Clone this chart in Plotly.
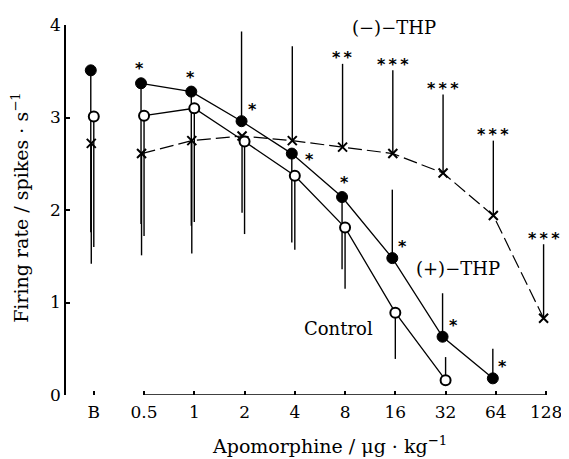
import numpy as np
import plotly.graph_objects as go

# ---- data ----
categories = ["B", "0.5", "1", "2", "4", "8", "16", "32", "64", "128"]
doses = [None, 0.5, 1, 2, 4, 8, 16, 32, 64, 128]

plus_thp = [3.51, 3.37, 3.28, 2.96, 2.61, 2.14, 1.48, 0.63, 0.18]
plus_thp_err_lo = [1.75, 1.52, 1.45, 0.0, 0.96, 0.78, 0.0, 0.0, 0.0]
plus_thp_err_hi = [0.0, 0.0, 0.0, 0.97, 0.0, 0.0, 0.74, 0.47, 0.32]
plus_thp_sig = ["", "*", "*", "*", "*", "*", "*", "*", "*"]

control = [3.01, 3.02, 3.10, 2.74, 2.37, 1.81, 0.89, 0.16]
control_err_lo = [1.41, 1.30, 1.23, 1.00, 0.80, 0.66, 0.50, 0.0]
control_err_hi = [0.0, 0.0, 0.0, 0.0, 0.0, 0.0, 0.0, 0.25]

minus_thp = [2.72, 2.61, 2.75, 2.80, 2.75, 2.68, 2.61, 2.40, 1.94, 0.83]
minus_thp_err_lo = [1.30, 1.10, 1.22, 0.83, 0.0, 0.0, 0.0, 0.0, 0.0, 0.0]
minus_thp_err_hi = [0.0, 0.0, 0.0, 0.0, 1.02, 0.90, 0.90, 0.85, 0.81, 0.80]
minus_thp_sig = ["", "", "", "", "", "**", "***", "***", "***", "***"]

y_ticks = [0, 1, 2, 3, 4]

# ---- scale: log2 dose, baseline one step left of 0.5 ----
xpos = np.array([np.log2(0.5) - 1] + [np.log2(d) for d in doses[1:]])

# styles
FONT = "DejaVu Serif"
dodge = {"plus": -0.06, "ctrl": 0.0, "minus": -0.05}
plus_star_shift = [(0, 0), (-2, 15), (-1, 14), (11, 12), (18, -6), (2, 15), (10, 12), (11, 11), (10, 12)]
GAP = "\u2009"

fig = go.Figure()

def add_series(vals, lo, hi, dx, marker, line):
    n = len(vals)
    xs = xpos[:n] + dx
    fig.add_trace(go.Scatter(x=xs[1:], y=vals[1:], mode="lines", line=line,
                             hoverinfo="skip", showlegend=False))
    fig.add_trace(go.Scatter(
        x=xs, y=vals, mode="markers", marker=marker, showlegend=False,
        error_y=dict(type="data", symmetric=False, array=hi, arrayminus=lo,
                     color="black", thickness=1.4, width=0),
        cliponaxis=False))

add_series(minus_thp, minus_thp_err_lo, minus_thp_err_hi, dodge["minus"],
           dict(symbol="x-thin-open", size=9, color="black", line=dict(color="black", width=2)),
           dict(color="black", width=1.2, dash="14px,5px"))
add_series(plus_thp, plus_thp_err_lo, plus_thp_err_hi, dodge["plus"],
           dict(symbol="circle", size=11, color="black", line=dict(color="black", width=1)),
           dict(color="black", width=1.3))
add_series(control, control_err_lo, control_err_hi, dodge["ctrl"],
           dict(symbol="circle", size=10, color="white", line=dict(color="black", width=2)),
           dict(color="black", width=1.3))

STAR_FONT = dict(family="DejaVu Sans", size=16, color="black")
annotations = []
# significance stars for (+)-THP
for i, s in enumerate(plus_thp_sig):
    if s:
        xs_, ys_ = plus_star_shift[i]
        annotations.append(dict(x=xpos[i] + dodge["plus"], y=plus_thp[i], xref="x", yref="y",
                                text="<b>" + s + "</b>", showarrow=False, xshift=xs_, yshift=ys_,
                                xanchor="center", yanchor="middle", font=STAR_FONT))
# significance stars for (-)-THP, above the error bars
for i, s in enumerate(minus_thp_sig):
    if s:
        annotations.append(dict(x=xpos[i] + dodge["minus"], y=minus_thp[i] + minus_thp_err_hi[i],
                                xref="x", yref="y", text="<b>" + GAP.join(s) + "</b>", showarrow=False,
                                yshift=6, xanchor="center", yanchor="middle", font=STAR_FONT))

def label(x, y, text, size, angle=0):
    return dict(x=x, y=y, xref="paper", yref="paper", text=text, showarrow=False,
                xanchor="center", yanchor="middle", textangle=angle,
                font=dict(family=FONT, size=size, color="black"))

# series labels and axis titles
annotations += [
    label(0.669, 0.992, "(−)−THP", 18),
    label(0.800, 0.341, "(+)−THP", 18),
    label(0.556, 0.179, "Control", 18),
    label(0.538, -0.136, "Apomorphine / μg · kg<sup>−1</sup>", 19),
    label(-0.093, 0.507, "Firing rate / spikes · s<sup>−1</sup>", 19, -90),
]

fig.update_layout(
    width=561, height=451,
    margin=dict(l=58, r=7, t=12, b=64),
    paper_bgcolor="white", plot_bgcolor="white",
    annotations=annotations,
    shapes=[dict(type="line", xref="x", yref="y", x0=xpos[1], x1=xpos[-1], y0=0, y1=0,
                 line=dict(color="black", width=1.6))],
    font=dict(family=FONT, color="black"),
)
fig.update_xaxes(range=[-2.553, 7.197], tickmode="array", tickvals=xpos, ticktext=categories,
                 showline=False, showgrid=False, zeroline=False, ticks="inside", ticklen=4,
                 tickcolor="black", tickwidth=1.5, ticklabelstandoff=5, ticklabeloverflow="allow",
                 tickfont=dict(family=FONT, size=17, color="black"))
fig.update_yaxes(range=[0, 4], tickmode="array", tickvals=y_ticks, ticktext=[str(t) for t in y_ticks],
                 showline=True, linecolor="black", linewidth=1.6, showgrid=False, zeroline=False,
                 ticks="inside", ticklen=4, tickcolor="black", tickwidth=1.5,
                 tickfont=dict(family=FONT, size=17, color="black"))

fig.write_html("out.html")
